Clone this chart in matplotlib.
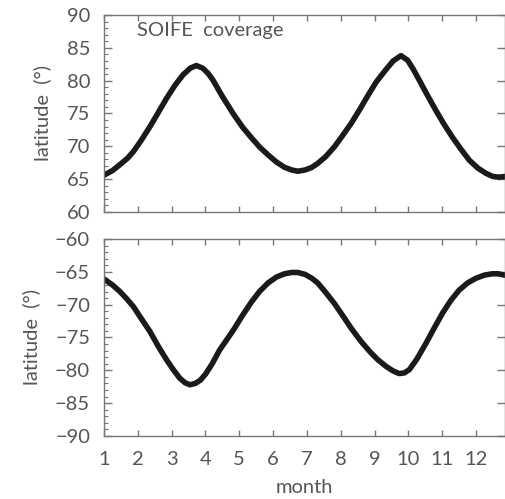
import numpy as np
import matplotlib
matplotlib.use("Agg")
import matplotlib.pyplot as plt
from matplotlib.ticker import MultipleLocator

# values (month, latitude)
month_n = [1.0, 1.25, 1.47, 1.7, 1.87, 2.1, 2.36, 2.6, 2.85, 3.1, 3.34, 3.55, 3.73,
           3.92, 4.08, 4.22, 4.5, 4.83, 5.1, 5.36, 5.6, 5.85, 6.1, 6.34, 6.55,
           6.73, 6.95, 7.15, 7.32, 7.55, 7.81, 8.05, 8.31, 8.55, 8.8, 9.05, 9.34,
           9.55, 9.78, 9.98, 10.15, 10.32, 10.55, 10.81, 11.05, 11.3, 11.55,
           11.8, 12.05, 12.29, 12.5, 12.68, 12.85]
lat_n = [65.6, 66.3, 67.2, 68.2, 69.2, 70.9, 73.0, 75.1, 77.3, 79.3, 80.9, 81.9, 82.3,
         81.9, 81.1, 80.1, 77.6, 74.9, 72.9, 71.3, 69.9, 68.7, 67.6, 66.8, 66.4,
         66.2, 66.4, 66.8, 67.4, 68.4, 69.9, 71.6, 73.5, 75.5, 77.7, 79.8, 81.7,
         83.0, 83.8, 83.1, 81.7, 80.1, 77.9, 75.5, 73.4, 71.4, 69.6,
         67.9, 66.7, 65.9, 65.4, 65.3, 65.4]

month_s = [1.0, 1.25, 1.47, 1.67, 1.87, 2.1, 2.36, 2.6, 2.85, 3.05, 3.24, 3.4, 3.54,
           3.7, 3.85, 4.0, 4.2, 4.42, 4.65, 4.86, 5.1, 5.36, 5.6, 5.85, 6.1, 6.34,
           6.55, 6.73, 6.95, 7.15, 7.32, 7.55, 7.81, 8.05, 8.31, 8.6, 8.87, 9.1,
           9.34, 9.55, 9.73, 9.88, 10.03, 10.25, 10.52, 10.75, 11.01, 11.25, 11.5,
           11.75, 11.99, 12.25, 12.48, 12.65, 12.85]
lat_s = [-66.1, -67.0, -68.0, -69.1, -70.3, -72.1, -74.1, -76.3, -78.4, -79.9, -81.2,
         -81.9, -82.2, -82.0, -81.5, -80.6, -79.0, -76.9, -75.2, -73.6, -71.6, -69.6,
         -68.0, -66.7, -65.8, -65.3, -65.1, -65.1, -65.4, -66.0, -66.7, -68.1, -69.8,
         -71.6, -73.6, -75.6, -77.2, -78.4, -79.4, -80.1, -80.5, -80.4, -79.9, -78.3,
         -75.9, -73.7, -71.3, -69.4, -67.8, -66.7, -66.0, -65.5, -65.3, -65.3, -65.5]

title = "SOIFE  coverage"
xticks = list(range(1, 13))

txt = "#555555"
fs = 14.5
plt.rcParams["font.family"] = ["Lato", "DejaVu Sans"]
plt.rcParams["font.size"] = fs

fig = plt.figure(figsize=(5.06, 4.99), dpi=100)
ax1 = fig.add_axes([0.2055, 0.5752, 0.792, 0.3948])
ax2 = fig.add_axes([0.2055, 0.1263, 0.792, 0.3948])

for ax, yl in ((ax1, (60, 90)), (ax2, (-90, -60))):
    ax.set_xlim(1, 12.85)
    ax.set_ylim(*yl)
    ax.set_xticks(xticks)
    ax.yaxis.set_major_locator(MultipleLocator(5))
    ax.yaxis.set_minor_locator(MultipleLocator(1))
    ax.tick_params(which="both", direction="in", top=True, right=True,
                   colors="#777777", labelcolor=txt, labelsize=fs)
    ax.tick_params(axis="y", which="major", length=6, width=1, pad=10)
    ax.tick_params(axis="y", which="minor", length=3, width=0.8, right=False)
    ax.tick_params(axis="x", which="major", length=4, width=1, pad=11)
    for s in ax.spines.values():
        s.set_color("#777777")
        s.set_linewidth(1)
    ax.set_ylabel("latitude  (°)", color=txt, fontsize=fs, labelpad=11)

ax1.plot(month_n, lat_n, color="#1a1a1a", lw=4.0, solid_joinstyle="round")
ax2.plot(month_s, lat_s, color="#1a1a1a", lw=4.0, solid_joinstyle="round")
ax1.tick_params(axis="x", labelbottom=False)
ax1.text(1.97, 87.6, title, color=txt, fontsize=fs, va="center")
ax2.set_xlabel("month", color=txt, fontsize=fs, labelpad=8)

fig.savefig("out.png", dpi=100)
